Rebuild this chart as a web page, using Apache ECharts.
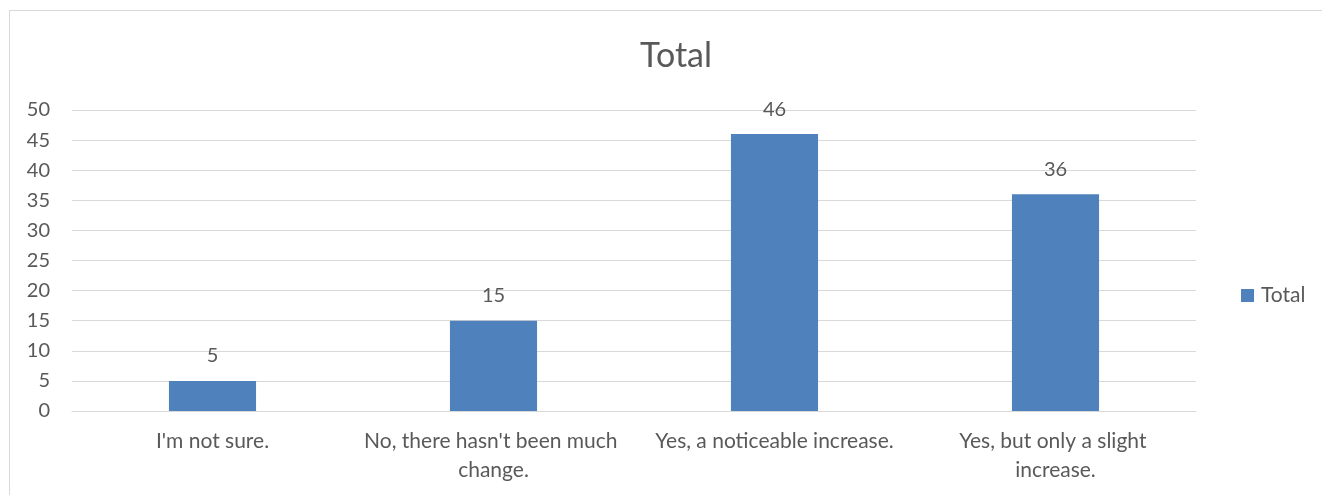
<!DOCTYPE html>
<html>
<head>
<meta charset="utf-8">
<script src="https://cdn.jsdelivr.net/npm/echarts@6/dist/echarts.min.js"></script>
<style>
  html, body { margin: 0; padding: 0; background: #fff; }
  #frame {
    position: absolute; left: 9px; top: 10px;
    width: 1330px; height: 500px;
    border: 1px solid #d9d9d9; box-sizing: border-box;
  }
  #chart { position: absolute; left: 0; top: 0; width: 1322px; height: 495px; }
</style>
</head>
<body>
<div id="frame"></div>
<div id="chart"></div>
<script>
const categories = [
  "I'm not sure.",
  "No, there hasn't been much change.",
  "Yes, a noticeable increase.",
  "Yes, but only a slight increase."
];
const totalValues = [5, 15, 46, 36];
const yTicks = [0, 5, 10, 15, 20, 25, 30, 35, 40, 45, 50];

const textColor = "#595959";
const font = "Lato, 'Liberation Sans', sans-serif";

const chart = echarts.init(document.getElementById("chart"));
chart.setOption({
  animation: false,
  title: {
    text: "Total",
    left: 671,
    top: 34,
    textAlign: "center",
    textStyle: { color: textColor, fontFamily: font, fontSize: 34, fontWeight: "normal" }
  },
  legend: {
    data: ["Total"],
    orient: "vertical",
    left: 1236,
    top: 280,
    itemWidth: 13,
    itemHeight: 13,
    itemGap: 6,
    icon: "rect",
    textStyle: { color: textColor, fontFamily: font, fontSize: 21, padding: [0, 0, 0, 2] }
  },
  grid: { left: 72, right: 126, top: 110, bottom: 84 },
  xAxis: {
    type: "category",
    data: categories,
    axisLine: { lineStyle: { color: "#d9d9d9", width: 1 } },
    axisTick: { show: false },
    axisLabel: {
      color: textColor,
      fontFamily: font,
      fontSize: 21,
      lineHeight: 29,
      margin: 16,
      width: 262,
      overflow: "break",
      interval: 0
    }
  },
  yAxis: {
    type: "value",
    min: yTicks[0],
    max: yTicks[yTicks.length - 1],
    interval: 5,
    axisLine: { show: false },
    axisTick: { show: false },
    splitLine: { lineStyle: { color: "#d9d9d9", width: 1 } },
    axisLabel: { color: textColor, fontFamily: font, fontSize: 20, margin: 22 }
  },
  series: [
    {
      name: "Total",
      type: "bar",
      data: totalValues,
      barWidth: "31%",
      itemStyle: { color: "#4f81bd" },
      label: {
        show: true,
        position: "top",
        distance: 15,
        color: textColor,
        fontFamily: font,
        fontSize: 20
      }
    }
  ]
});
</script>
</body>
</html>
